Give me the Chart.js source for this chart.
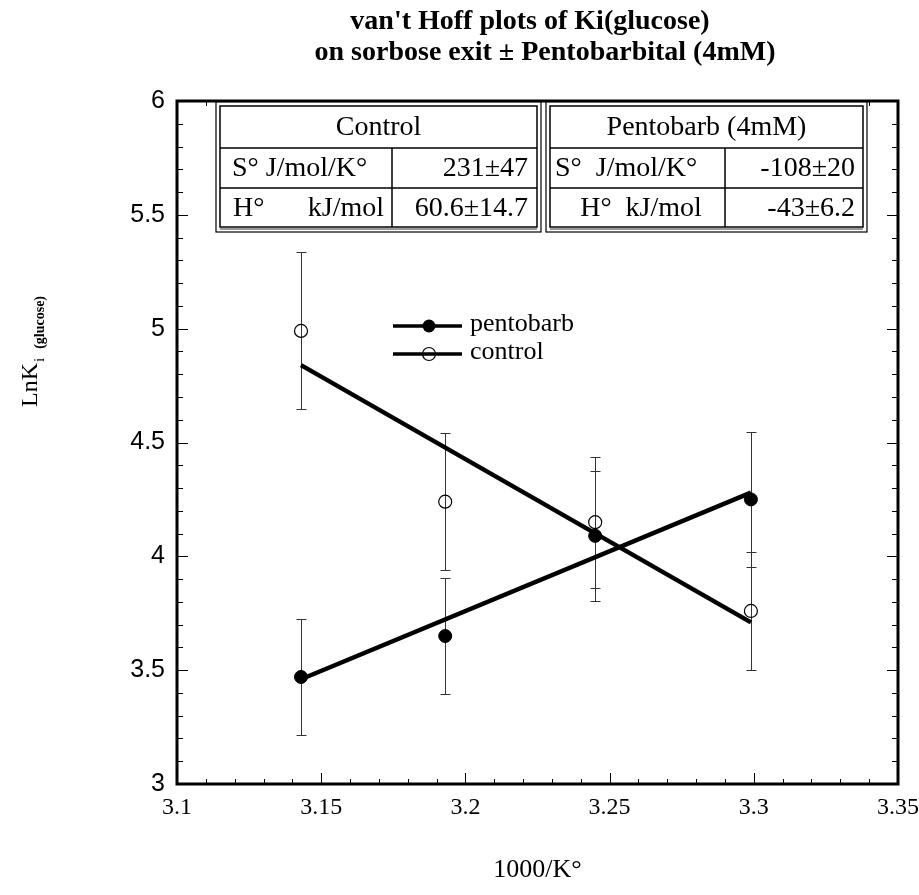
<!DOCTYPE html>
<html>
<head>
<meta charset="utf-8">
<script src="https://cdn.jsdelivr.net/npm/chart.js@4.4.1/dist/chart.umd.min.js"></script>
<style>
  body { margin: 0; background: #fff; }
  #wrap { width: 919px; height: 895px; position: relative; }
</style>
</head>
<body>
<div id="wrap"><canvas id="vantHoff"></canvas></div>
<script>
// 1000/K° for the four temperatures
const invTemp = [3.143, 3.193, 3.245, 3.299];
// LnKi(glucose) + pentobarbital 4mM
const pentobarb = [3.47, 3.65, 4.09, 4.25];
const pentobarbErr = [0.255, 0.255, 0.285, 0.295];
// LnKi(glucose) control
const control = [4.99, 4.24, 4.15, 3.76];
const controlErr = [0.345, 0.30, 0.287, 0.26];
// fitted lines (ends)
const fitX = [3.143, 3.299];
const pentobarbFit = [3.46, 4.28];
const controlFit = [4.84, 3.71];

const xTicks = [3.1, 3.15, 3.2, 3.25, 3.3, 3.35];
const yTicks = [3, 3.5, 4, 4.5, 5, 5.5, 6];

const titleLines = ["van't Hoff plots of Ki(glucose)", "on sorbose exit \u00b1 Pentobarbital (4mM)"];
const controlHead = 'Control';
const controlRows = [['S\u00b0 J/mol/K\u00b0', '231\u00b147'], ['H\u00b0', 'kJ/mol', '60.6\u00b114.7']];
const pentoHead = 'Pentobarb (4mM)';
const pentoRows = [['S\u00b0  J/mol/K\u00b0', '-108\u00b120'], ['H\u00b0  kJ/mol', '-43\u00b16.2']];

const SERIF = '"Liberation Serif", "Times New Roman", serif';
const SANS = '"Liberation Sans", Arial, sans-serif';

function toPts(xs, ys) {
    return xs.map((x, i) => ({x: x, y: ys[i]}));
}

//error bars under the points
const errorBars = {
    id: 'errorBars',
    beforeDatasetsDraw(chart) {
        const ctx = chart.ctx;
        const xs = chart.scales.x, ys = chart.scales.y;
        const sets = [[pentobarb, pentobarbErr], [control, controlErr]];
        ctx.save();
        ctx.strokeStyle = '#333';
        ctx.lineWidth = 1;
        sets.forEach(s => {
            invTemp.forEach((x, i) => {
                const px = Math.round(xs.getPixelForValue(x)) + 0.5;
                const top = Math.round(ys.getPixelForValue(s[0][i] + s[1][i])) + 0.5;
                const bot = Math.round(ys.getPixelForValue(s[0][i] - s[1][i])) + 0.5;
                ctx.beginPath();
                ctx.moveTo(px, top); ctx.lineTo(px, bot);
                ctx.moveTo(px - 5, top); ctx.lineTo(px + 5, top);
                ctx.moveTo(px - 5, bot); ctx.lineTo(px + 5, bot);
                ctx.stroke();
            });
        });
        ctx.restore();
    }
};

function drawTable(ctx, x0, x1, divX, head, layout) {
    const y0 = 102, r1 = 148, r2 = 188, yIn = 227, y1 = 232;
    ctx.fillStyle = '#fff';
    ctx.fillRect(x0, y0, x1 - x0, y1 - y0);
    ctx.strokeStyle = '#000';
    ctx.lineWidth = 1.2;
    ctx.strokeRect(x0, y0, x1 - x0, y1 - y0);
    ctx.lineWidth = 1.5;
    ctx.strokeRect(x0 + 4, y0 + 4, x1 - x0 - 8, yIn - y0 - 4);
    ctx.strokeStyle = '#777';
    ctx.lineWidth = 1.5;
    ctx.beginPath(); ctx.moveTo(x0 + 4, yIn + 2); ctx.lineTo(x1 - 4, yIn + 2); ctx.stroke();
    ctx.strokeStyle = '#000';
    ctx.lineWidth = 1.5;
    ctx.beginPath();
    ctx.moveTo(x0 + 4, r1); ctx.lineTo(x1 - 4, r1);
    ctx.moveTo(x0 + 4, r2); ctx.lineTo(x1 - 4, r2);
    ctx.moveTo(divX, r1); ctx.lineTo(divX, yIn);
    ctx.stroke();

    ctx.fillStyle = '#000';
    ctx.font = '28px ' + SERIF;
    ctx.textBaseline = 'middle';
    ctx.textAlign = 'center';
    ctx.fillText(head, (x0 + x1) / 2, (y0 + r1) / 2 + 3);
    layout(ctx, [(r1 + r2) / 2 + 1, (r2 + yIn) / 2 + 1]);
}

const decor = {
    id: 'decor',
    afterDraw(chart) {
        const ctx = chart.ctx;
        const a = chart.chartArea;
        const xs = chart.scales.x, ys = chart.scales.y;
        ctx.save();

        //inward ticks on all four sides
        ctx.strokeStyle = '#000';
        ctx.lineWidth = 1;
        ctx.beginPath();
        for (let k = 0; k <= 25; k++) {
            const v = 3.1 + k * 0.01;
            const px = Math.round(xs.getPixelForValue(v)) + 0.5;
            const len = (k % 5 === 0) ? 11 : 5;
            ctx.moveTo(px, a.bottom); ctx.lineTo(px, a.bottom - len);
            ctx.moveTo(px, a.top); ctx.lineTo(px, a.top + len);
        }
        for (let k = 0; k <= 30; k++) {
            const v = 3 + k * 0.1;
            const py = Math.round(ys.getPixelForValue(v)) + 0.5;
            const len = (k % 5 === 0) ? 11 : 6;
            ctx.moveTo(a.left, py); ctx.lineTo(a.left + len, py);
            ctx.moveTo(a.right, py); ctx.lineTo(a.right - len, py);
        }
        ctx.stroke();

        //frame
        ctx.lineWidth = 3;
        ctx.strokeRect(a.left, a.top, a.right - a.left, a.bottom - a.top);

        //tables
        drawTable(ctx, 216, 541, 392, controlHead, (c, ry) => {
            c.textAlign = 'left';
            c.fillText(controlRows[0][0], 232, ry[0]);
            c.fillText(controlRows[1][0], 233, ry[1]);
            c.textAlign = 'right';
            c.fillText(controlRows[0][1], 528, ry[0]);
            c.fillText(controlRows[1][1], 384, ry[1]);
            c.fillText(controlRows[1][2], 528, ry[1]);
        });
        drawTable(ctx, 546, 867, 725, pentoHead, (c, ry) => {
            c.textAlign = 'left';
            c.fillText(pentoRows[0][0], 555, ry[0]);
            c.textAlign = 'center';
            c.fillText(pentoRows[1][0], 641, ry[1]);
            c.textAlign = 'right';
            c.fillText(pentoRows[0][1], 855, ry[0]);
            c.fillText(pentoRows[1][1], 855, ry[1]);
        });

        //legend
        ctx.strokeStyle = '#000';
        ctx.lineWidth = 3.5;
        ctx.beginPath();
        ctx.moveTo(393, 326); ctx.lineTo(462, 326);
        ctx.moveTo(393, 354); ctx.lineTo(462, 354);
        ctx.stroke();
        ctx.fillStyle = '#000';
        ctx.beginPath(); ctx.arc(429, 326, 6.5, 0, Math.PI * 2); ctx.fill();
        ctx.lineWidth = 1.2;
        ctx.beginPath(); ctx.arc(429, 354, 6.5, 0, Math.PI * 2); ctx.stroke();
        ctx.font = '26px ' + SERIF;
        ctx.textAlign = 'left';
        ctx.textBaseline = 'middle';
        ctx.fillText('pentobarb', 470, 324);
        ctx.fillText('control', 470, 352);

        //title
        ctx.font = 'bold 28px ' + SERIF;
        ctx.textAlign = 'center';
        ctx.textBaseline = 'alphabetic';
        ctx.fillText(titleLines[0], 530, 29);
        ctx.fillText(titleLines[1], 545, 60);

        //x title
        ctx.font = '26px ' + SERIF;
        ctx.fillText('1000/K\u00b0', (a.left + a.right) / 2, 877);

        //y title, rotated, with subscript
        ctx.translate(37, 407);
        ctx.rotate(-Math.PI / 2);
        ctx.textAlign = 'left';
        ctx.font = '24px ' + SERIF;
        ctx.fillText('LnK', 0, 0);
        let w = ctx.measureText('LnK').width + 1;
        ctx.font = '15px ' + SERIF;
        ctx.fillText('i', w, 7);
        w += ctx.measureText('i').width + 9;
        ctx.font = 'bold 14px ' + SERIF;
        ctx.fillText('(glucose)', w, 7);
        ctx.restore();
    }
};

const ctx = document.getElementById('vantHoff').getContext('2d');
const vantHoffChart = new Chart(ctx, {
    type: 'scatter',
    data: {
        datasets: [{
            label: 'pentobarb',
            data: toPts(invTemp, pentobarb),
            pointRadius: 6.5,
            backgroundColor: '#000',
            borderColor: '#000',
            borderWidth: 1,
            order: 0
        }, {
            label: 'control',
            data: toPts(invTemp, control),
            pointRadius: 6.5,
            backgroundColor: 'rgba(255,255,255,0)',
            borderColor: '#000',
            borderWidth: 1.2,
            order: 0
        }, {
            type: 'line',
            label: 'pentobarb fit',
            data: toPts(fitX, pentobarbFit),
            borderColor: '#000',
            borderWidth: 4.5,
            pointRadius: 0,
            order: 1
        }, {
            type: 'line',
            label: 'control fit',
            data: toPts(fitX, controlFit),
            borderColor: '#000',
            borderWidth: 4.5,
            pointRadius: 0,
            order: 1
        }]
    },
    options: {
        responsive: true,
        maintainAspectRatio: false,
        animation: false,
        layout: { padding: { top: 101, right: 21, left: 0, bottom: 0 } },
        plugins: {
            legend: { display: false },
            title: { display: false },
            tooltip: { enabled: false }
        },
        scales: {
            x: {
                type: 'linear',
                min: 3.1,
                max: 3.35,
                afterBuildTicks: s => { s.ticks = xTicks.map(v => ({ value: v })); },
                afterFit: s => { s.height = 111; s.paddingLeft = 0; s.paddingRight = 0; },
                ticks: {
                    color: '#000',
                    padding: 9,
                    maxRotation: 0,
                    font: { family: SERIF, size: 24 },
                    callback: v => String(v)
                },
                grid: { display: false, drawTicks: false },
                border: { display: false }
            },
            y: {
                type: 'linear',
                min: 3,
                max: 6,
                afterBuildTicks: s => { s.ticks = yTicks.map(v => ({ value: v })); },
                afterFit: s => { s.width = 177; s.paddingTop = 0; s.paddingBottom = 0; },
                ticks: {
                    color: '#000',
                    padding: 12,
                    font: { family: SANS, size: 25 },
                    callback: v => String(v)
                },
                grid: { display: false, drawTicks: false },
                border: { display: false }
            }
        }
    },
    plugins: [errorBars, decor]
});
</script>
</body>
</html>
